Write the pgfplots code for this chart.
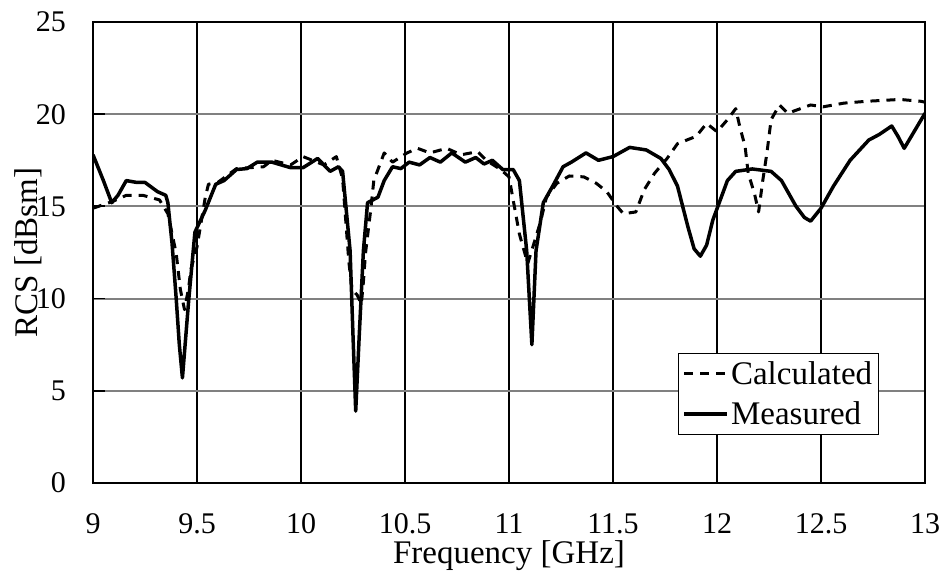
\documentclass[border=0pt]{standalone}
\usepackage{fontspec}
\setmainfont{Liberation Serif}
\usepackage{pgfplots}
\pgfplotsset{compat=1.18}
\begin{document}
\begin{tikzpicture}
\path[use as bounding box] (0pt,0pt) rectangle (944pt,575pt);
\begin{axis}[
  at={(93pt,92pt)}, anchor=south west,
  scale only axis, width=832pt, height=461pt,
  xmin=9, xmax=13, ymin=0, ymax=25,
  xtick={9,9.5,...,13}, ytick={0,5,...,25},
  xticklabels={9,9.5,10,10.5,11,11.5,12,12.5,13},
  /pgf/number format/assume math mode=true,
  tick label style={font=\fontsize{30}{36}\selectfont},
  xticklabel style={anchor=north, inner sep=0pt, yshift=-30pt},
  yticklabel style={anchor=east, inner sep=0pt, xshift=-27pt},
  tick align=inside, ytick pos=left, xtick pos=bottom,
  major tick length=12pt,
  every tick/.style={black, line width=1.8pt},
  xmajorgrids, ymajorgrids,
  x grid style={black, line width=1.2pt},
  y grid style={gray, line width=2pt},
  axis line style={black, line width=2.2pt},
  xlabel={Frequency [GHz]},
  ylabel={RCS [dBsm]},
  label style={font=\fontsize{33}{40}\selectfont, inner sep=0pt},
  xlabel style={at={(axis description cs:0.5,0)}, anchor=north, yshift=-57pt},
  ylabel style={at={(axis description cs:0,0.5)}, anchor=center, yshift=65pt},
  legend style={at={(rel axis cs:0.703,0.282)}, anchor=north west,
    draw=black, line width=1.3pt, font=\fontsize{33}{40}\selectfont,
    inner xsep=4pt, inner ysep=6pt, row sep=12pt,
    nodes={inner sep=2pt}},
  legend cell align=left,
  legend image code/.code={\draw[#1] (0pt,0pt) -- (43pt,0pt);},
  clip=true,
]
\addplot[black, line width=3pt, dash pattern=on 9pt off 7pt, line join=round] coordinates {
(9.00,14.9) (9.09,15.25) (9.16,15.6) (9.24,15.6) (9.32,15.35) (9.36,14.6)
(9.40,12.45) (9.42,10.5) (9.44,9.4) (9.46,10.6) (9.47,11.55) (9.50,12.8)
(9.54,15.5) (9.555,16.2) (9.60,16.3) (9.69,17.05) (9.82,17.15) (9.86,17.5)
(9.95,17.25) (10.01,17.7) (10.11,17.25) (10.17,17.7) (10.20,16.5) (10.23,12.0)
(10.245,10.5) (10.27,10.2) (10.29,9.7) (10.30,10.9) (10.31,12.45) (10.335,14.8)
(10.35,16.4) (10.40,17.9) (10.44,17.4) (10.51,17.9) (10.56,18.15) (10.62,17.9)
(10.70,18.15) (10.77,17.8) (10.85,17.97) (10.89,17.5) (10.96,17.0) (11.00,16.6)
(11.02,15.35) (11.05,13.5) (11.09,11.9) (11.12,13.0) (11.15,14.1) (11.18,15.5)
(11.23,16.25) (11.29,16.65) (11.36,16.6) (11.42,16.25) (11.47,15.8) (11.52,15.0)
(11.55,14.6) (11.61,14.7) (11.65,15.9) (11.70,16.8) (11.76,17.6) (11.81,18.4)
(11.90,18.8) (11.95,19.5) (12.00,19.05) (12.05,19.7) (12.09,20.3) (12.11,19.3)
(12.135,18.25) (12.15,16.8) (12.18,15.7) (12.20,14.7) (12.22,16.4) (12.24,17.9)
(12.26,19.7) (12.30,20.5) (12.34,20.05) (12.45,20.5) (12.51,20.4) (12.61,20.6)
(12.72,20.7) (12.88,20.8) (12.98,20.7) (13.00,20.65)
};
\addlegendentry{Calculated}
\addplot[black, line width=3.5pt, line join=round] coordinates {
(9.00,17.8) (9.05,16.4) (9.09,15.2) (9.12,15.6) (9.16,16.4) (9.21,16.3)
(9.25,16.3) (9.31,15.8) (9.35,15.6) (9.36,15.2) (9.38,13.0) (9.40,10.0)
(9.415,7.5) (9.43,5.7) (9.445,7.8) (9.46,9.9) (9.49,13.6) (9.54,14.8)
(9.59,16.2) (9.63,16.4) (9.69,17.0) (9.74,17.05) (9.79,17.4) (9.86,17.4)
(9.95,17.1) (10.01,17.1) (10.08,17.6) (10.14,16.9) (10.18,17.15) (10.20,16.9)
(10.236,12.6) (10.25,8.0) (10.263,3.9) (10.28,8.0) (10.30,12.6) (10.32,15.2)
(10.37,15.5) (10.40,16.4) (10.44,17.15) (10.48,17.05) (10.52,17.4) (10.57,17.25)
(10.62,17.65) (10.67,17.4) (10.725,17.9) (10.79,17.4) (10.84,17.65) (10.88,17.3)
(10.92,17.5) (10.97,17.0) (11.02,17.0) (11.05,16.4) (11.085,12.6) (11.11,7.5)
(11.13,12.6) (11.165,15.2) (11.21,16.1) (11.26,17.15) (11.30,17.4) (11.37,17.9)
(11.43,17.5) (11.50,17.7) (11.58,18.2) (11.66,18.06) (11.73,17.6) (11.77,17.0)
(11.81,16.1) (11.86,13.9) (11.89,12.7) (11.92,12.3) (11.95,12.9) (11.98,14.26)
(12.05,16.4) (12.09,16.9) (12.17,17.03) (12.26,16.9) (12.31,16.4) (12.38,15.0)
(12.42,14.4) (12.45,14.2) (12.50,14.9) (12.56,16.1) (12.64,17.5) (12.73,18.6)
(12.78,18.9) (12.84,19.36) (12.87,18.8) (12.90,18.15) (12.95,19.1) (13.00,20.05)
};
\addlegendentry{Measured}
\end{axis}
\end{tikzpicture}
\end{document}
